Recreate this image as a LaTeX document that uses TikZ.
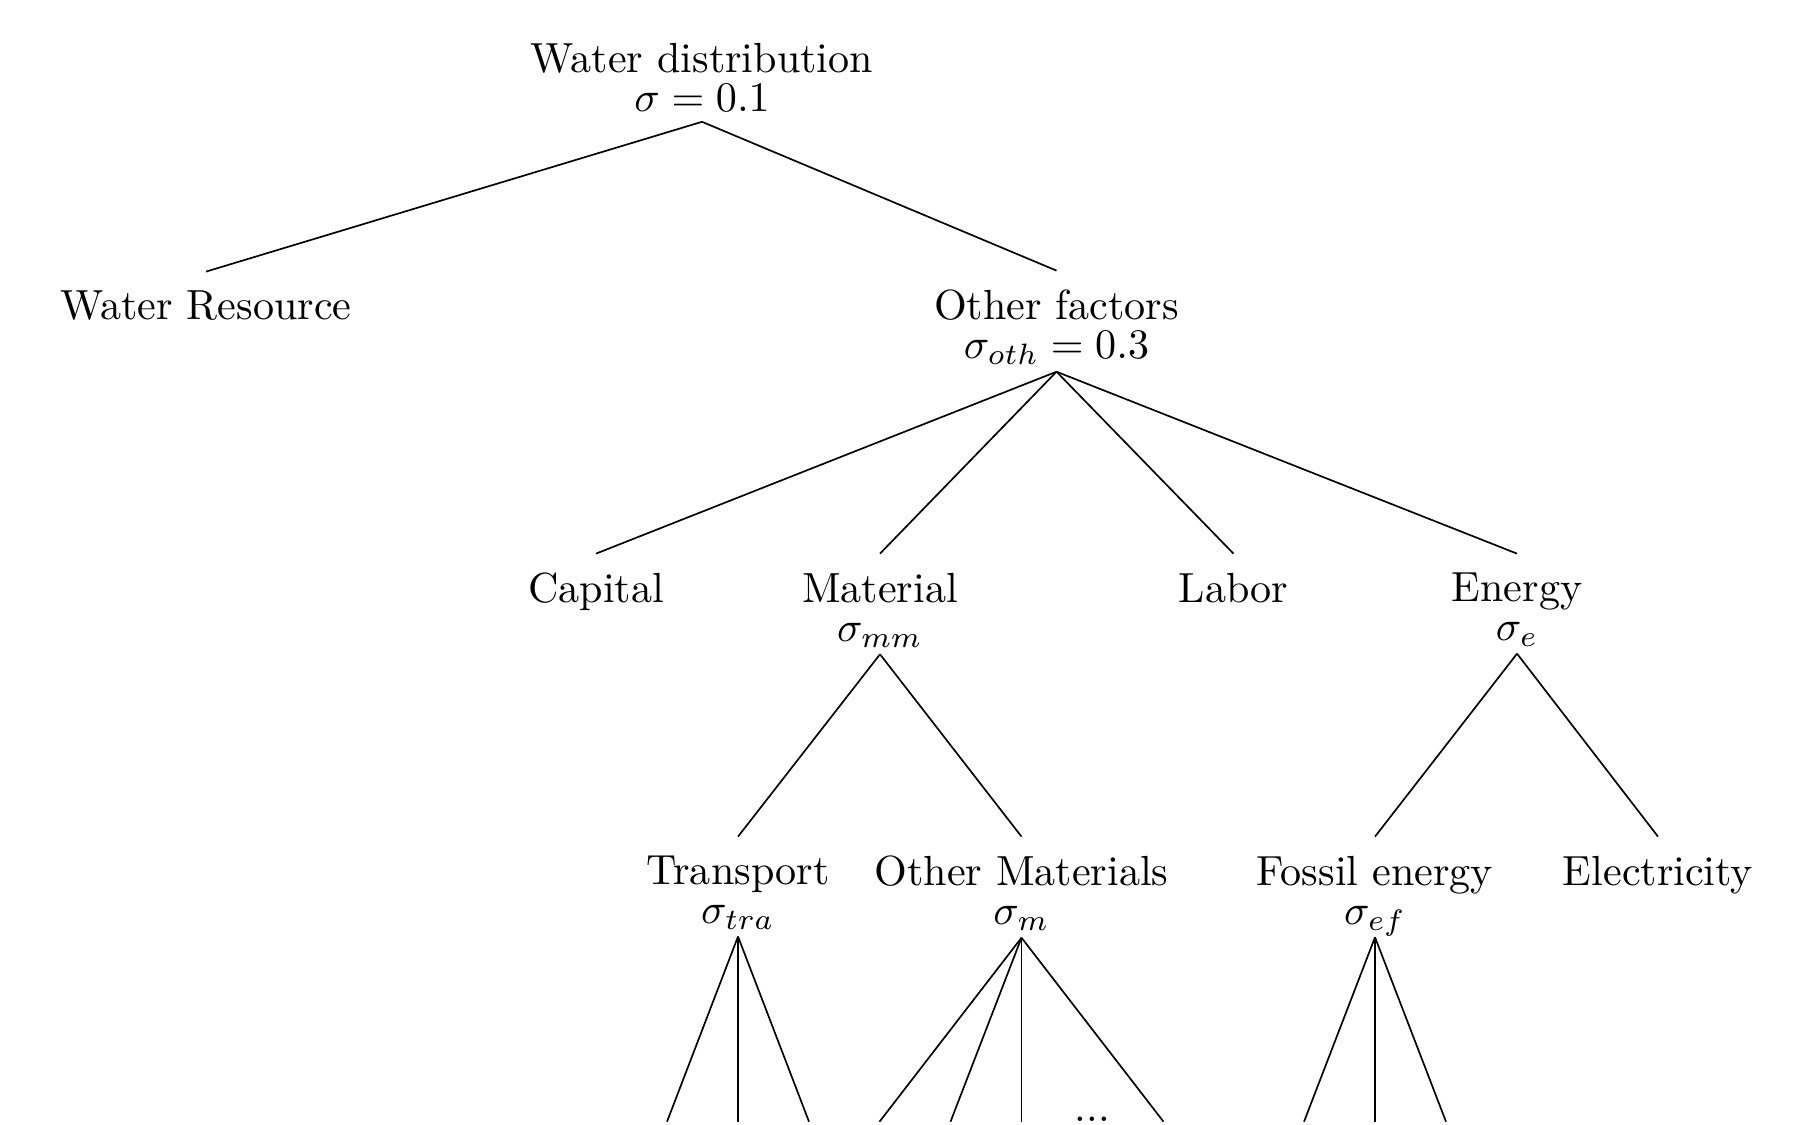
\documentclass[tikz,border=0pt]{standalone}
\begin{document}
\begin{tikzpicture}[x=0.2375pt,y=-0.2375pt,
  lbl/.style={align=center,inner sep=0pt,outer sep=0pt,anchor=north},
  conn/.style={line width=0.4pt}]
\useasboundingbox (0,0) rectangle (1799,1125);
% nodes
\node[lbl] (root) at (702,43.5) {Water distribution\\[-2.74pt]$\sigma=0.1$};
\node[lbl] (wr) at (206,291) {Water Resource};
\node[lbl] (of) at (1056.5,290) {Other factors\\[-2.74pt]$\sigma_{oth}=0.3$};
\node[lbl] (cap) at (596,573) {Capital};
\node[lbl] (mat) at (880,573) {Material\\[-2.74pt]$\sigma_{mm}$};
\node[lbl] (lab) at (1233.5,573) {Labor};
\node[lbl] (ene) at (1517,573) {Energy\\[-2.74pt]$\sigma_{e}$};
\node[lbl] (tra) at (738,856) {Transport\\[-2.74pt]$\sigma_{tra}$};
\node[lbl] (om) at (1021.5,856) {Other Materials\\[-2.74pt]$\sigma_{m}$};
\node[lbl] (fos) at (1375,856) {Fossil energy\\[-2.74pt]$\sigma_{e\smash{f}}$};
\node[lbl] (ele) at (1658,856) {Electricity};
\node[anchor=base,inner sep=0pt] (dots) at (1092.5,1121.5) {...};
% leaf ends
\foreach \n/\x in {t1/667,t2/738,t3/809,o1/879.5,o2/950.5,o3/1021.5,o4/1163.5,f1/1304,f2/1375,f3/1446}
  \coordinate (\n) at (\x,1121.7);
% connectors
\foreach \c in {wr,of}
  \draw[conn] ([yshift=-2.4pt]root.south) -- ([yshift=4.6pt]\c.north);
\foreach \p/\c in {of/cap,of/mat,of/lab,of/ene,mat/tra,mat/om,ene/fos,ene/ele}
  \draw[conn] ([yshift=-1.6pt]\p.south) -- ([yshift=4.6pt]\c.north);
\foreach \p/\c in {tra/t1,tra/t2,tra/t3,om/o1,om/o2,om/o3,om/o4,fos/f1,fos/f2,fos/f3}
  \draw[conn] ([yshift=-1.6pt]\p.south) -- (\c);
\end{tikzpicture}
\end{document}
